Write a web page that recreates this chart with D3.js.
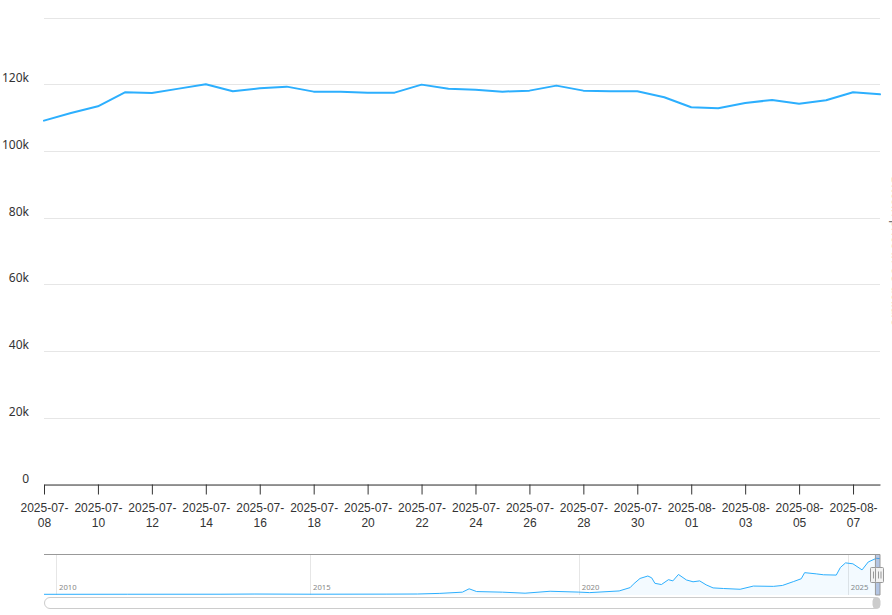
<!DOCTYPE html>
<html>
<head>
<meta charset="utf-8">
<script src="https://cdn.jsdelivr.net/npm/d3@7"></script>
<style>
  html, body { margin: 0; padding: 0; background: #fff; }
  svg { display: block; font-family: "Noto Sans", "Open Sans", sans-serif; }
</style>
</head>
<body>
<svg id="chart" width="892" height="615"></svg>
<script>
// ---- main series (Bitcoin price, USD) ----
const dates = [
  "2025-07-08","2025-07-09","2025-07-10","2025-07-11","2025-07-12","2025-07-13","2025-07-14","2025-07-15",
  "2025-07-16","2025-07-17","2025-07-18","2025-07-19","2025-07-20","2025-07-21","2025-07-22","2025-07-23",
  "2025-07-24","2025-07-25","2025-07-26","2025-07-27","2025-07-28","2025-07-29","2025-07-30","2025-07-31",
  "2025-08-01","2025-08-02","2025-08-03","2025-08-04","2025-08-05","2025-08-06","2025-08-07","2025-08-08"
];
const prices = [
  109100, 111400, 113400, 117600, 117400, 118700, 120000, 117900,
  118800, 119300, 117800, 117800, 117500, 117500, 119900, 118700,
  118400, 117800, 118100, 119600, 118100, 117900, 117900, 116100,
  113100, 112800, 114400, 115300, 114200, 115200, 117600, 117000
];
const yTicks = [0, 20000, 40000, 60000, 80000, 100000, 120000, 140000];
const yTickLabels = ["0", "20k", "40k", "60k", "80k", "100k", "120k", ""];

// ---- navigator series (full history) ----
const navDates = [
  "2009-10-07","2011-06-01","2013-04-01","2013-12-01","2015-01-01","2016-06-01","2017-01-01","2017-06-01",
  "2017-11-01","2017-12-17","2018-02-06","2018-08-01","2019-01-01","2019-06-20","2020-01-01","2020-03-15",
  "2020-10-01","2020-12-15","2021-01-05","2021-02-20","2021-04-14","2021-05-10","2021-06-01","2021-07-15",
  "2021-09-01","2021-10-01","2021-11-08","2022-01-01","2022-02-15","2022-04-01","2022-05-15","2022-07-01",
  "2022-09-10","2023-01-01","2023-04-01","2023-08-15","2023-10-15","2023-12-31","2024-02-20","2024-03-14",
  "2024-06-01","2024-07-20","2024-10-15","2024-11-12","2024-12-17","2025-02-05","2025-04-08","2025-05-20",
  "2025-07-14","2025-08-08"
];
const navValues = [
  0, 200, 300, 900, 300, 600, 1000, 3000,
  7000, 18000, 9000, 7000, 3600, 10000, 7200, 5500,
  11000, 22000, 33000, 52000, 60000, 54000, 36000, 32000,
  48000, 44000, 65000, 47000, 41000, 44000, 31000, 21000,
  19000, 16500, 27000, 26000, 29000, 42000, 51000, 71000,
  67000, 64000, 63000, 88000, 103000, 100000, 80000, 106000,
  118000, 117000
];
const navTickDates = ["2010-01-01", "2015-01-01", "2020-01-01", "2025-01-01"];
const navTickLabels = ["2010", "2015", "2020", "2025"];

const parse = d3.timeParse("%Y-%m-%d");
const svg = d3.select("#chart");

// ---------- main chart ----------
const x = d3.scaleTime()
  .domain([parse(dates[0]), parse(dates[dates.length - 1])])
  .range([44, 880]);
const y = d3.scaleLinear().domain([0, 140000]).range([484.5, 17.6]);

// gridlines
svg.append("g").selectAll("line").data(yTicks).join("line")
  .attr("x1", 44).attr("x2", 880)
  .attr("y1", d => Math.round(y(d)) + 0.5).attr("y2", d => Math.round(y(d)) + 0.5)
  .attr("stroke", "#e6e6e6").attr("stroke-width", 1);

// y labels
svg.append("g").selectAll("text").data(yTicks).join("text")
  .attr("x", 29).attr("y", d => y(d) - 2)
  .attr("text-anchor", "end")
  .attr("font-size", 12).attr("fill", "#333")
  .text((d, i) => yTickLabels[i]);

// x axis
const xTickVals = dates.filter((d, i) => i % 2 === 0 && i < dates.length - 1).map(parse);
const xAxis = d3.axisBottom(x).tickValues(xTickVals).tickSize(10).tickSizeOuter(0).tickFormat("");
const gx = svg.append("g").attr("transform", "translate(0,484.5)").call(xAxis);
gx.select(".domain").attr("stroke", "#333");
gx.selectAll(".tick line").attr("stroke", "#333");
const fmt1 = d3.timeFormat("%Y-%m-"), fmt2 = d3.timeFormat("%d");
const lab = gx.selectAll(".tick").append("text")
  .attr("fill", "#333").attr("font-size", 12).attr("text-anchor", "middle");
lab.append("tspan").attr("x", 0).attr("y", 27.5).text(d => fmt1(d));
lab.append("tspan").attr("x", 0).attr("y", 42.5).text(d => fmt2(d));

// line
const line = d3.line().x((d, i) => x(parse(dates[i]))).y(d => y(d));
svg.append("path").datum(prices)
  .attr("d", line)
  .attr("fill", "none").attr("stroke", "#2caffe").attr("stroke-width", 2)
  .attr("stroke-linejoin", "round").attr("stroke-linecap", "round");

// axis title at the right edge (mostly outside the frame, as in the reference)
svg.append("text")
  .attr("transform", "translate(891.5,251) rotate(90)")
  .attr("text-anchor", "middle").attr("font-size", 12.5).attr("fill", "#777")
  .text("Bitcoin price in US dollars");

// ---------- navigator ----------
const navTop = 554.5, navBottom = 595;
const nx = d3.scaleTime()
  .domain([parse(navDates[0]), parse("2010-01-01"), parse("2015-01-01"), parse(navDates[navDates.length - 1])])
  .range([44, 56, 310, 880]);
const ny = d3.scaleLinear().domain([0, 120000]).range([594.3, 557.7]);

// nav gridlines + labels
const navTicks = navTickDates.map(parse);
svg.append("g").selectAll("line").data(navTicks).join("line")
  .attr("x1", d => Math.round(nx(d)) + 0.5).attr("x2", d => Math.round(nx(d)) + 0.5)
  .attr("y1", navTop).attr("y2", navBottom)
  .attr("stroke", "#e6e6e6");
svg.append("g").selectAll("text").data(navTicks).join("text")
  .attr("x", d => nx(d) + 3).attr("y", 590)
  .attr("font-size", 7.7).attr("fill", "#888")
  .text((d, i) => navTickLabels[i]);

// nav area + line
const navArea = d3.area().x((d, i) => nx(parse(navDates[i]))).y0(navBottom).y1(d => ny(d));
const navLine = d3.line().x((d, i) => nx(parse(navDates[i]))).y(d => ny(d));
svg.append("path").datum(navValues).attr("d", navArea)
  .attr("fill", "#2caffe").attr("fill-opacity", 0.06);
svg.append("path").datum(navValues).attr("d", navLine)
  .attr("fill", "none").attr("stroke", "#2caffe").attr("stroke-width", 1);

// mask (selected range)
const m0 = nx(parse(dates[0])), m1 = nx(parse(dates[dates.length - 1]));
svg.append("rect")
  .attr("x", m0).attr("y", navTop).attr("width", m1 - m0).attr("height", navBottom - navTop)
  .attr("fill", "rgba(102,133,194,0.45)");
// outline
svg.append("path")
  .attr("d", `M44,${navTop}H${m0}V${navBottom}H${m1}V${navTop}H880`)
  .attr("fill", "none").attr("stroke", "#999").attr("stroke-width", 1);
svg.append("line").attr("x1", 44).attr("x2", 880).attr("y1", navTop).attr("y2", navTop)
  .attr("stroke", "#999");

// handles
[m0, m1].forEach(hx => {
  const g = svg.append("g").attr("transform", `translate(${Math.round(hx) - 4.5},567.5)`);
  g.append("rect").attr("width", 8).attr("height", 15).attr("rx", 1)
    .attr("fill", "#f2f2f2").attr("stroke", "#999");
  g.append("path").attr("d", "M3,4V11M5.5,4V11").attr("stroke", "#999").attr("fill", "none");
});

// scrollbar
svg.append("rect").attr("x", 44.5).attr("y", 597.5).attr("width", 835).attr("height", 11)
  .attr("rx", 5.5).attr("fill", "#fff").attr("stroke", "#ccc");
svg.append("rect").attr("x", 873).attr("y", 597.5).attr("width", 7).attr("height", 11)
  .attr("rx", 3.5).attr("fill", "#ccc").attr("stroke", "#ccc");
</script>
</body>
</html>
